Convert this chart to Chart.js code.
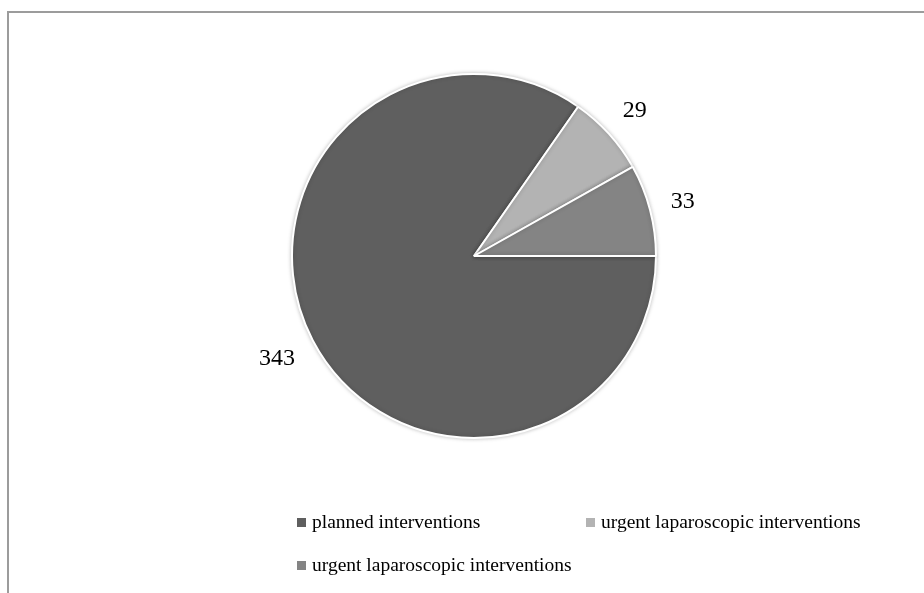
<!DOCTYPE html>
<html>
<head>
<meta charset="utf-8">
<script src="https://cdn.jsdelivr.net/npm/chart.js@4/dist/chart.umd.min.js"></script>
<style>
  html, body { margin: 0; padding: 0; background: #fff; }
  #wrap { position: relative; width: 924px; height: 593px; overflow: hidden; }
  #frame { position: absolute; left: 7px; top: 11px; width: 1000px; height: 1000px;
           border: 2px solid #9c9c9c; box-sizing: border-box; }
  canvas { position: absolute; left: 0; top: 0; }
</style>
</head>
<body>
<div id="wrap">
  <div id="frame"></div>
  <canvas id="myChart" width="924" height="593"></canvas>
</div>
<script>
const labels = ['planned interventions', 'urgent laparoscopic interventions', 'urgent laparoscopic interventions'];
const values = [343, 29, 33];
const colors = ['#5f5f5f', '#b3b3b3', '#848484'];

const ctx = document.getElementById('myChart');

// value labels outside the slices, box kept a fixed gap off the rim
const outside_labels = {
    id: 'outside_labels',
    afterDatasetsDraw: (chart) => {
        const { ctx } = chart;
        const meta = chart.getDatasetMeta(0);
        const gap = 20;
        ctx.save();
        ctx.font = '24px "Liberation Serif", serif';
        ctx.fillStyle = '#000';
        ctx.textAlign = 'center';
        ctx.textBaseline = 'middle';
        meta.data.forEach((arc, i) => {
            const { x, y, startAngle, endAngle, outerRadius } = arc.getProps(['x', 'y', 'startAngle', 'endAngle', 'outerRadius'], true);
            const mid = (startAngle + endAngle) / 2;
            const txt = String(chart.data.datasets[0].data[i]);
            const hw = ctx.measureText(txt).width / 2;
            const hh = 9;
            const r = outerRadius + gap + hw * Math.abs(Math.cos(mid)) + hh * Math.abs(Math.sin(mid));
            ctx.fillText(txt, x + Math.cos(mid) * r, y + Math.sin(mid) * r);
        });
        ctx.restore();
    }
};

// soft halo round the pie
const pie_shadow = {
    id: 'pie_shadow',
    beforeDatasetsDraw: (chart) => {
        chart.ctx.save();
        chart.ctx.shadowColor = 'rgba(0,0,0,0.22)';
        chart.ctx.shadowBlur = 4;
    },
    afterDatasetsDraw: (chart) => {
        chart.ctx.restore();
    }
};

// legend in two columns, like the original
const grid_legend = {
    id: 'grid_legend',
    afterDraw: (chart) => {
        const { ctx } = chart;
        const cols = [297, 586];
        const rows = [522, 565];
        ctx.save();
        ctx.font = '19.5px "Liberation Serif", serif';
        ctx.textBaseline = 'middle';
        chart.data.labels.forEach((lab, i) => {
            const x = cols[i % 2];
            const y = rows[Math.floor(i / 2)];
            ctx.fillStyle = chart.data.datasets[0].backgroundColor[i];
            ctx.fillRect(x, y - 4, 9, 9);
            ctx.fillStyle = '#000';
            ctx.fillText(lab, x + 15, y + 1);
        });
        ctx.restore();
    }
};

new Chart(ctx, {
    type: 'pie',
    data: {
        labels: labels,
        datasets: [{
            data: values,
            backgroundColor: colors,
            borderColor: '#ffffff',
            borderWidth: 2
        }]
    },
    options: {
        responsive: false,
        animation: false,
        rotation: 90,
        layout: {
            padding: { left: 100, right: 76, top: 73, bottom: 154 }
        },
        plugins: {
            legend: { display: false },
            tooltip: { enabled: false }
        }
    },
    plugins: [pie_shadow, outside_labels, grid_legend]
});
</script>
</body>
</html>
